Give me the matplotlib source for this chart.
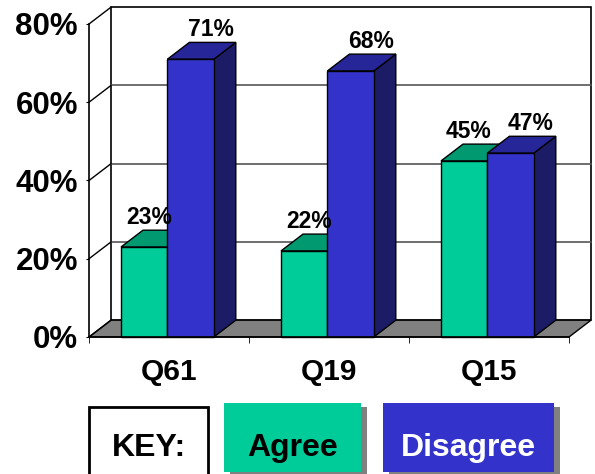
import matplotlib
matplotlib.use("Agg")
import matplotlib.pyplot as plt
from matplotlib.patches import Polygon, Rectangle

# datos del grafico
categorias = ["Q61", "Q19", "Q15"]
agree = [23, 22, 45]
disagree = [71, 68, 47]
yticks = [0, 20, 40, 60, 80]
ytick_labels = ["0%", "20%", "40%", "60%", "80%"]

W, H = 595, 474
fuente = "Liberation Sans"
verde, verde_top, verde_lado = "#00CC99", "#009970", "#007755"
azul, azul_top, azul_lado = "#3333CC", "#262699", "#1C1C66"

# profundidad 3D (en unidades de datos)
dx, dy = 0.1375, 4.3
ancho = 0.29


def px(x, y):
    # pixel de la imagen -> coordenadas de figura
    return x / W, 1 - y / H


fig = plt.figure(figsize=(W / 100, H / 100), dpi=100)
ax = fig.add_axes([89 / W, (H - 337) / H, 480 / W, 313 / H])
ax.set_xlim(0, 3)
ax.set_ylim(0, 80)
for s in ["top", "right"]:
    ax.spines[s].set_visible(False)
ax.spines["left"].set_linewidth(1.2)
ax.spines["bottom"].set_linewidth(1.2)

n = len(categorias)
# piso gris
ax.add_patch(Polygon([(0, 0), (n, 0), (n + dx, dy), (dx, dy)], closed=True,
                     facecolor="#808080", edgecolor="black", lw=1, clip_on=False, zorder=1))
# pared del fondo
ax.add_patch(Rectangle((dx, dy), n, 80, facecolor="white", edgecolor="black",
                       lw=1.2, clip_on=False, zorder=0.5))
# lineas de rejilla
for v in yticks:
    ax.plot([0, dx], [v, v + dy], color="black", lw=1, clip_on=False, zorder=1.5)
    if 0 < v < 80:
        ax.plot([dx, n + dx], [v + dy, v + dy], color="#555555", lw=1.2,
                clip_on=False, zorder=0.8)


def barra(x0, val, c_front, c_top, c_lado):
    x1 = x0 + ancho
    ax.add_patch(Polygon([(x1, 0), (x1 + dx, dy), (x1 + dx, val + dy), (x1, val)],
                         closed=True, facecolor=c_lado, edgecolor="black", lw=1,
                         clip_on=False, zorder=2))
    ax.add_patch(Polygon([(x0, val), (x1, val), (x1 + dx, val + dy), (x0 + dx, val + dy)],
                         closed=True, facecolor=c_top, edgecolor="black", lw=1,
                         clip_on=False, zorder=2))
    ax.add_patch(Rectangle((x0, 0), ancho, val, facecolor=c_front, edgecolor="black",
                           lw=1, clip_on=False, zorder=2))


for i in range(n):
    centro = i + 0.49
    barra(centro - ancho, agree[i], verde, verde_top, verde_lado)
    barra(centro, disagree[i], azul, azul_top, azul_lado)
    ax.text(centro - ancho / 2 + 0.03, agree[i] + dy + 3.2, f"{agree[i]}%",
            ha="center", va="center", fontsize=16.5, fontweight="bold",
            family=fuente, zorder=5)
    ax.text(centro + ancho / 2 + 0.125, disagree[i] + dy + 3.2, f"{disagree[i]}%",
            ha="center", va="center", fontsize=16.5, fontweight="bold",
            family=fuente, zorder=5)

ax.set_yticks(yticks)
ax.set_yticklabels(ytick_labels, fontsize=22.5, fontweight="bold", family=fuente)
ax.tick_params(axis="y", length=2, pad=6)
ax.set_xticks([i + 0.5 for i in range(n)])
ax.set_xticklabels(categorias, fontsize=21.5, fontweight="bold", family=fuente)
ax.set_xticks(range(n + 1), minor=True)
ax.tick_params(axis="x", which="major", length=0, pad=15)
ax.tick_params(axis="x", which="minor", length=4)

# leyenda tipo "KEY"
def caja(x0, y0, x1, y1, color, texto, color_txt, sombra=True, borde=None):
    if sombra:
        sx, sy = px(x0 + 6, y1 + 4)
        fig.patches.append(Rectangle((sx, sy), (x1 - x0) / W, (y1 - y0) / H,
                                     transform=fig.transFigure, facecolor="#808080",
                                     edgecolor="none", zorder=1))
    bx, by = px(x0, y1)
    fig.patches.append(Rectangle((bx, by), (x1 - x0) / W, (y1 - y0) / H,
                                 transform=fig.transFigure, facecolor=color,
                                 edgecolor=borde if borde else "none",
                                 lw=2 if borde else 0, zorder=2))
    tx, ty = px((x0 + x1) / 2, 448)
    fig.text(tx, ty, texto, ha="center", va="center", fontsize=23,
             fontweight="bold", family=fuente, color=color_txt, zorder=3)


caja(89, 407, 208, 480, "white", "KEY:", "black", sombra=False, borde="black")
caja(224, 403, 361, 472, verde, "Agree", "black")
caja(383, 403, 554, 472, azul, "Disagree", "white")

fig.savefig("out.png", dpi=100)
